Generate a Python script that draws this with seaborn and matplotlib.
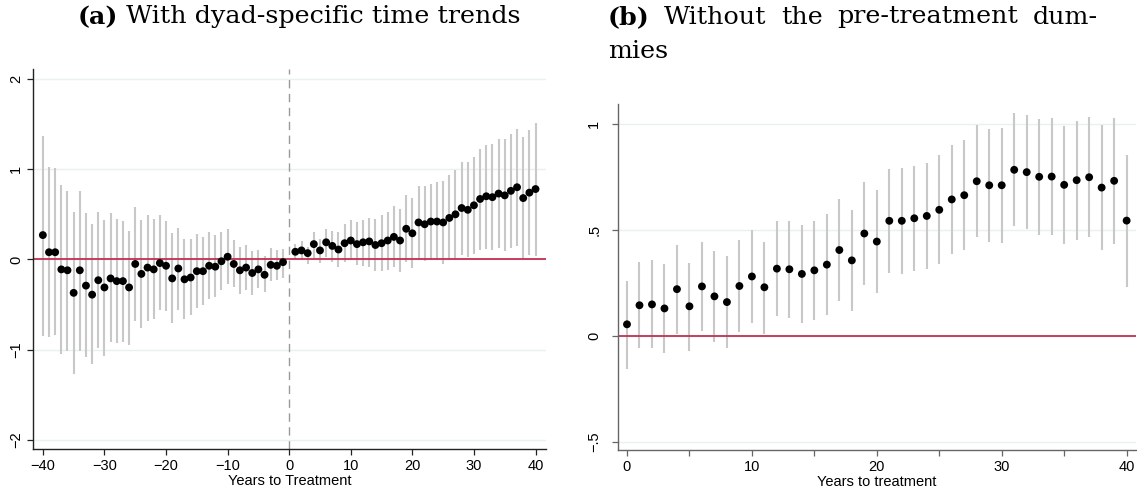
import numpy as np
import pandas as pd
import matplotlib
matplotlib.use("Agg")
import matplotlib.pyplot as plt
import seaborn as sns

# ---------------- data ----------------
years_a = list(range(-40, 0)) + list(range(1, 41))
coef_a = [0.27, 0.08, 0.08, -0.11, -0.12, -0.37, -0.12, -0.29, -0.39, -0.23,
          -0.31, -0.21, -0.24, -0.24, -0.31, -0.05, -0.16, -0.09, -0.11, -0.04,
          -0.07, -0.21, -0.10, -0.22, -0.20, -0.13, -0.13, -0.07, -0.08, -0.02,
          0.03, -0.05, -0.12, -0.09, -0.15, -0.11, -0.17, -0.06, -0.07, -0.03,
          0.085, 0.10, 0.07, 0.17, 0.10, 0.19, 0.15, 0.11, 0.18, 0.21,
          0.17, 0.19, 0.20, 0.16, 0.18, 0.21, 0.25, 0.21, 0.34, 0.29,
          0.41, 0.39, 0.42, 0.42, 0.41, 0.46, 0.50, 0.57, 0.55, 0.60,
          0.67, 0.70, 0.69, 0.73, 0.71, 0.76, 0.80, 0.68, 0.74, 0.78]
hi_a = [1.37, 1.02, 1.01, 0.83, 0.76, 0.53, 0.76, 0.51, 0.39, 0.53,
        0.44, 0.51, 0.45, 0.43, 0.32, 0.58, 0.44, 0.49, 0.45, 0.49,
        0.43, 0.29, 0.35, 0.23, 0.23, 0.28, 0.25, 0.30, 0.27, 0.30,
        0.34, 0.22, 0.14, 0.16, 0.09, 0.10, 0.04, 0.13, 0.10, 0.12,
        0.17, 0.20, 0.14, 0.30, 0.23, 0.34, 0.32, 0.30, 0.39, 0.44,
        0.41, 0.44, 0.46, 0.45, 0.49, 0.53, 0.59, 0.56, 0.71, 0.68,
        0.81, 0.81, 0.84, 0.86, 0.87, 0.94, 0.99, 1.08, 1.08, 1.14,
        1.22, 1.27, 1.28, 1.33, 1.34, 1.39, 1.45, 1.36, 1.43, 1.51]
lo_a = [-0.85, -0.86, -0.84, -1.05, -1.01, -1.27, -1.01, -1.08, -1.16, -0.98,
        -1.07, -0.92, -0.93, -0.91, -0.95, -0.68, -0.76, -0.68, -0.66, -0.56,
        -0.57, -0.70, -0.56, -0.66, -0.62, -0.54, -0.51, -0.44, -0.42, -0.34,
        -0.27, -0.31, -0.38, -0.34, -0.39, -0.32, -0.36, -0.24, -0.23, -0.20,
        0.01, -0.01, -0.05, 0.02, -0.04, 0.03, -0.03, -0.08, -0.03, -0.01,
        -0.06, -0.07, -0.08, -0.13, -0.13, -0.12, -0.08, -0.14, -0.03, -0.09,
        -0.01, -0.02, -0.01, -0.01, -0.05, -0.01, 0.01, 0.05, 0.03, 0.06,
        0.10, 0.12, 0.11, 0.13, 0.09, 0.13, 0.15, 0.00, 0.05, 0.04]

years_b = list(range(0, 41))
coef_b = [0.054, 0.144, 0.148, 0.129, 0.22, 0.139, 0.233, 0.186, 0.159, 0.235,
          0.28, 0.229, 0.317, 0.314, 0.292, 0.309, 0.336, 0.405, 0.356, 0.483,
          0.445, 0.543, 0.543, 0.555, 0.566, 0.595, 0.644, 0.664, 0.73, 0.711,
          0.711, 0.784, 0.773, 0.751, 0.752, 0.713, 0.735, 0.749, 0.70, 0.732,
          0.544]
hi_b = [0.26, 0.35, 0.356, 0.34, 0.43, 0.345, 0.443, 0.40, 0.377, 0.453,
        0.50, 0.443, 0.543, 0.543, 0.524, 0.543, 0.574, 0.647, 0.596, 0.726,
        0.689, 0.789, 0.793, 0.803, 0.815, 0.852, 0.90, 0.923, 0.994, 0.976,
        0.981, 1.052, 1.043, 1.024, 1.027, 0.989, 1.014, 1.032, 0.997, 1.027,
        0.856]
lo_b = [-0.155, -0.06, -0.06, -0.08, 0.008, -0.07, 0.024, -0.03, -0.057, 0.017,
        0.06, 0.009, 0.093, 0.084, 0.06, 0.076, 0.098, 0.166, 0.115, 0.241,
        0.20, 0.298, 0.293, 0.308, 0.317, 0.338, 0.388, 0.407, 0.468, 0.445,
        0.44, 0.517, 0.505, 0.478, 0.478, 0.435, 0.453, 0.468, 0.404, 0.435,
        0.23]

yticks_a = [-2, -1, 0, 1, 2]
yticklabels_a = ["\u22122", "\u22121", "0", "1", "2"]
xticks_a = [-40, -30, -20, -10, 0, 10, 20, 30, 40]
xticklabels_a = ["\u221240", "\u221230", "\u221220", "\u221210", "0", "10", "20", "30", "40"]
yticks_b = [-0.5, 0, 0.5, 1]
yticklabels_b = ["\u2212.5", "0", ".5", "1"]
xticks_b = [0, 5, 10, 15, 20, 25, 30, 35, 40]
xticklabels_b = ["0", "", "10", "", "20", "", "30", "", "40"]

title_a = ("(a)", "With dyad-specific time trends")
title_b_line1 = ["(b)", "Without", "the", "pre-treatment", "dum-"]
title_b_line2 = "mies"
xlabel_a = "Years to Treatment"
xlabel_b = "Years to treatment"

df_a = pd.DataFrame({"year": years_a, "coef": coef_a, "lo": lo_a, "hi": hi_a})
df_b = pd.DataFrame({"year": years_b, "coef": coef_b, "lo": lo_b, "hi": hi_b})

# ---------------- style ----------------
sns.set_theme(style="white")
plt.rcParams["font.family"] = ["Liberation Sans", "DejaVu Sans"]
plt.rcParams["text.color"] = "black"
plt.rcParams["axes.labelcolor"] = "black"
plt.rcParams["xtick.labelcolor"] = "black"
plt.rcParams["ytick.labelcolor"] = "black"

W, H = 1137, 494
fig = plt.figure(figsize=(W / 100, H / 100), dpi=100)

ax_a = fig.add_axes([33 / W, 1 - 449 / H, (546 - 33) / W, (449 - 69) / H])
ax_b = fig.add_axes([618 / W, 1 - 450 / H, (1136 - 618) / W, (450 - 104) / H])

GRID = "#e8f0f1"
CI = "#c8c8c8"
ZERO = "#c4304f"
TICKFS = 10.5


def draw_panel(ax, df, spine_color, ypad):
    for y in ax.get_yticks():
        ax.axhline(y, color=GRID, lw=1.0, zorder=0)
    ax.vlines(df["year"], df["lo"], df["hi"], color=CI, lw=1.5, zorder=1)
    ax.axhline(0, color=ZERO, lw=1.3, zorder=2)
    sns.scatterplot(data=df, x="year", y="coef", ax=ax, color="black",
                    s=32, edgecolor="none", zorder=3, legend=False)
    for s in ["top", "right"]:
        ax.spines[s].set_visible(False)
    for s in ["left", "bottom"]:
        ax.spines[s].set_color(spine_color)
        ax.spines[s].set_linewidth(1.0)
    ax.tick_params(axis="both", which="major", direction="out", length=4,
                   width=0.9, color=spine_color, labelsize=TICKFS,
                   labelcolor="black", left=True, bottom=True)
    ax.tick_params(axis="x", pad=3)
    ax.tick_params(axis="y", pad=ypad)
    for lab in ax.get_yticklabels():
        lab.set_rotation(90)
        lab.set_va("center")
    ax.set_ylabel("")


# panel a
ax_a.set_xlim(-41.6, 41.7)
ax_a.set_ylim(-2.1, 2.11)
ax_a.set_yticks(yticks_a)
ax_a.set_yticklabels(yticklabels_a)
ax_a.set_xticks(xticks_a)
ax_a.set_xticklabels(xticklabels_a)
ax_a.axvline(0, color="#9a9a9a", lw=1.0, ls=(0, (6, 4)), zorder=1)
draw_panel(ax_a, df_a, "#222222", 3)
ax_a.set_xlabel(xlabel_a, fontsize=TICKFS, labelpad=1, color="black")

# panel b
ax_b.set_xlim(-0.72, 40.75)
ax_b.set_ylim(-0.54, 1.095)
ax_b.set_yticks(yticks_b)
ax_b.set_yticklabels(yticklabels_b)
ax_b.set_xticks(xticks_b)
ax_b.set_xticklabels(xticklabels_b)
draw_panel(ax_b, df_b, "#666666", 8)
ax_b.set_xlabel(xlabel_b, fontsize=TICKFS, labelpad=1, color="black")

# ---------------- titles ----------------
TFONT = "DejaVu Serif"
TFS = 18.3
fig.canvas.draw()
renderer = fig.canvas.get_renderer()


def width_px(t):
    return t.get_window_extent(renderer=renderer).width


# title a: centered at x ~ 299
y1 = 1 - 17 / H
tb = fig.text(0, y1, title_a[0], fontsize=TFS, family=TFONT, weight="bold",
              va="center", ha="left", color="black")
tr = fig.text(0, y1, " " + title_a[1], fontsize=TFS, family=TFONT,
              va="center", ha="left", color="black")
wb, wr = width_px(tb), width_px(tr)
x0 = 299 - (wb + wr) / 2
tb.set_x(x0 / W)
tr.set_x((x0 + wb) / W)

# title b: justified between 608 and 1098
texts = []
for i, w in enumerate(title_b_line1):
    texts.append(fig.text(0, y1, w, fontsize=TFS, family=TFONT, color="black",
                          weight="bold" if i == 0 else "normal", va="center", ha="left"))
widths = [width_px(t) for t in texts]
left, right = 608, 1098
gap = (right - left - sum(widths)) / (len(texts) - 1)
x = left
for t, w in zip(texts, widths):
    t.set_x(x / W)
    x += w + gap
fig.text(left / W, 1 - 51 / H, title_b_line2, fontsize=TFS, family=TFONT,
         va="center", ha="left", color="black")

fig.savefig("out.png", dpi=100)
